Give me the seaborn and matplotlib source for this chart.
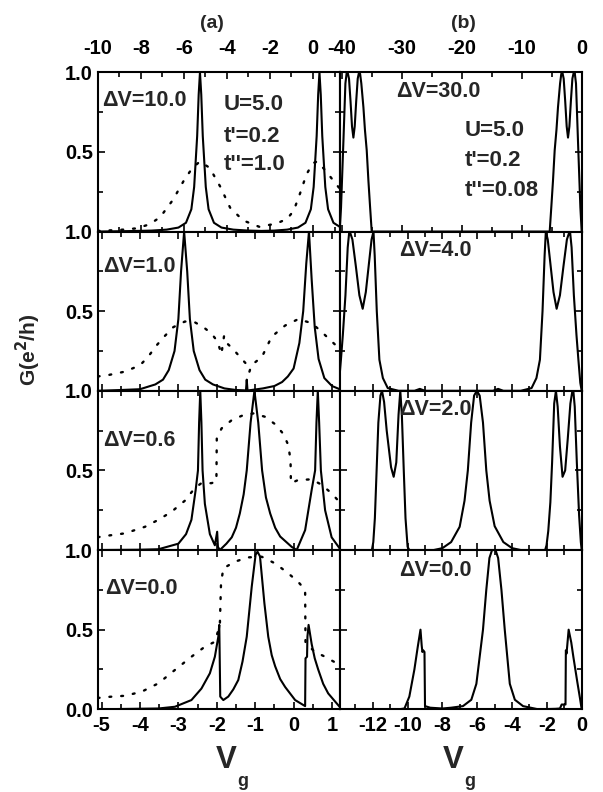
import numpy as np
import pandas as pd
import seaborn as sns
from matplotlib import pyplot as plt
from matplotlib.ticker import MultipleLocator, FixedLocator

# ---------------- data ----------------
# (a) column, dV = 10.0 (x in units of the top axis)
a1_solid_x = [-10.0, -8.5, -7.5, -6.8, -6.25, -5.9, -5.65, -5.52, -5.38, -5.31, -5.25, -5.19, -5.12,
              -4.98, -4.85, -4.6, -4.25, -3.7, -3.0, -2.4, -1.8, -1.2, -0.7, -0.35, -0.1, 0.03, 0.17,
              0.24, 0.3, 0.36, 0.43, 0.57, 0.7, 0.95, 1.24]
a1_solid_g = [0.0, 0.003, 0.006, 0.012, 0.025, 0.055, 0.14, 0.28, 0.6, 0.86, 1.0, 0.86, 0.6,
              0.28, 0.14, 0.055, 0.025, 0.012, 0.006, 0.004, 0.006, 0.012, 0.025, 0.055, 0.14, 0.28, 0.6,
              0.86, 1.0, 0.86, 0.6, 0.28, 0.14, 0.055, 0.03]
a1_dot_x = [-10.0, -9.0, -8.2, -7.6, -7.1, -6.5, -6.0, -5.6, -5.25, -4.8, -4.3, -3.85, -3.25, -2.5,
            -1.7, -1.2, -0.9, -0.6, -0.3, 0.0, 0.2, 0.6, 1.0, 1.24]
a1_dot_g = [0.004, 0.01, 0.02, 0.045, 0.09, 0.2, 0.32, 0.40, 0.44, 0.40, 0.28, 0.15, 0.07, 0.03,
            0.05, 0.08, 0.13, 0.24, 0.36, 0.43, 0.44, 0.38, 0.31, 0.27]

# (a) column, dV = 1.0
a2_solid_x = [-5.1, -4.5, -4.0, -3.6, -3.4, -3.25, -3.1, -3.0, -2.93, -2.85, -2.77, -2.7, -2.6,
              -2.45, -2.3, -2.1, -1.8, -1.5, -1.3, -1.24, -1.22, -1.2, -1.1, -0.8, -0.5, -0.3,
              -0.15, 0.0, 0.15, 0.25, 0.33, 0.4, 0.47, 0.55, 0.65, 0.8, 1.0, 1.2]
a2_solid_g = [0.0, 0.005, 0.01, 0.04, 0.07, 0.13, 0.25, 0.45, 0.75, 1.0, 0.75, 0.45, 0.25,
              0.13, 0.07, 0.04, 0.015, 0.005, 0.003, 0.002, 0.07, 0.002, 0.005, 0.015, 0.03, 0.055,
              0.09, 0.14, 0.3, 0.5, 0.8, 1.0, 0.7, 0.4, 0.2, 0.08, 0.03, 0.01]
a2_dot_x = [-5.1, -4.8, -4.4, -4.0, -3.8, -3.55, -3.35, -3.13, -2.83, -2.57, -2.35, -2.14, -1.98,
            -1.88, -1.81, -1.74, -1.57, -1.35, -1.2, -1.15, -1.1, -0.92, -0.83, -0.57, -0.22, 0.12,
            0.47, 0.73, 1.08, 1.2]
a2_dot_g = [0.09, 0.10, 0.12, 0.16, 0.21, 0.29, 0.345, 0.40, 0.435, 0.43, 0.40, 0.36, 0.31,
            0.23, 0.345, 0.30, 0.26, 0.20, 0.16, 0.12, 0.16, 0.195, 0.21, 0.34, 0.41, 0.45,
            0.425, 0.37, 0.29, 0.27]

# (a) column, dV = 0.6
a3_solid_x = [-5.1, -4.0, -3.52, -3.0, -2.8, -2.66, -2.55, -2.49, -2.46, -2.43, -2.40, -2.37, -2.31,
              -2.18, -2.05, -1.99, -1.97, -1.92, -1.75, -1.61, -1.5, -1.40, -1.3, -1.22, -1.12,
              -1.02, -0.92, -0.82, -0.72, -0.61, -0.48, -0.35, -0.05, 0.08, 0.30, 0.47, 0.56,
              0.595, 0.63, 0.665, 0.71, 0.82, 0.99, 1.2]
a3_solid_g = [0.0, 0.002, 0.005, 0.04, 0.1, 0.19, 0.377, 0.5, 0.8, 1.0, 0.8, 0.5, 0.29,
              0.10, 0.03, 0.115, 0.02, 0.0, 0.04, 0.08, 0.14, 0.23, 0.35, 0.5, 0.8,
              1.0, 0.8, 0.5, 0.33, 0.23, 0.14, 0.085, 0.02, 0.0, 0.125, 0.377, 0.5,
              0.8, 1.0, 0.8, 0.5, 0.25, 0.08, 0.01]
a3_dot_x = [-5.1, -5.0, -4.39, -3.87, -3.52, -3.18, -2.83, -2.57, -2.40, -2.14, -2.01, -2.0, -1.875,
            -1.61, -1.31, -1.05, -0.745, -0.48, -0.27, -0.14, -0.08, -0.07, 0.12, 0.47, 0.73, 0.99, 1.2]
a3_dot_g = [0.08, 0.085, 0.105, 0.146, 0.19, 0.24, 0.31, 0.39, 0.42, 0.42, 0.43, 0.70, 0.764,
            0.816, 0.847, 0.858, 0.837, 0.79, 0.73, 0.66, 0.565, 0.42, 0.44, 0.444, 0.41, 0.356, 0.30]

# (a) column, dV = 0.0
a4_solid_x = [-5.1, -3.52, -3.09, -2.66, -2.40, -2.18, -2.05, -1.96, -1.935, -1.91, -1.875, -1.83,
              -1.70, -1.57, -1.44, -1.33, -1.22, -1.09, -0.99, -0.94, -0.875, -0.76, -0.66, -0.57,
              -0.48, -0.35, -0.22, 0.04, 0.30, 0.31, 0.35, 0.36, 0.39, 0.47, 0.55, 0.64, 0.77,
              0.90, 1.2]
a4_solid_g = [0.0, 0.005, 0.016, 0.058, 0.13, 0.226, 0.33, 0.456, 0.53, 0.08, 0.07, 0.058,
              0.08, 0.125, 0.184, 0.30, 0.456, 0.77, 0.97, 0.99, 0.96, 0.665, 0.456, 0.34,
              0.27, 0.19, 0.14, 0.058, 0.02, 0.32, 0.33, 0.456, 0.53, 0.41, 0.32, 0.25, 0.16,
              0.10, 0.015]
a4_dot_x = [-5.1, -5.0, -4.39, -3.96, -3.52, -3.09, -2.66, -2.31, -2.05, -1.92, -1.89, -1.83, -1.53,
            -1.18, -0.83, -0.48, -0.14, 0.12, 0.30, 0.31, 0.56, 0.82, 1.2]
a4_dot_g = [0.07, 0.075, 0.085, 0.11, 0.163, 0.247, 0.33, 0.393, 0.424, 0.53, 0.79, 0.885, 0.927,
            0.954, 0.958, 0.916, 0.854, 0.80, 0.75, 0.414, 0.36, 0.33, 0.278]

# (b) column, dV = 30.0
b1_x = [-40.3, -40.08, -39.68, -39.35, -39.13, -38.95, -38.75, -38.5, -38.25, -38.02, -37.8, -37.55,
        -37.3, -37.08, -36.9, -36.7, -36.35, -36.1, -35.8, -35.52, -35.25, -34.97, -32.3,
        -8.0, -5.33, -5.05, -4.78, -4.5, -4.2, -3.95, -3.6, -3.4, -3.22, -3.0, -2.75, -2.5, -2.28,
        -2.05, -1.8, -1.55, -1.35, -1.17, -0.95, -0.62, -0.22, 0.0]
b1_g = [0.0, 0.15, 0.57, 0.93, 1.0, 0.995, 0.96, 0.82, 0.66, 0.59, 0.66, 0.82,
        0.96, 1.0, 0.99, 0.93, 0.78, 0.64, 0.51, 0.32, 0.16, 0.0, 0.0,
        0.0, 0.0, 0.16, 0.32, 0.51, 0.64, 0.78, 0.93, 0.99, 1.0, 0.96, 0.82, 0.66, 0.59,
        0.66, 0.82, 0.96, 0.995, 1.0, 0.93, 0.57, 0.15, 0.0]

# (b) column, dV = 4.0
b2_x = [-14.02, -13.94, -13.83, -13.72, -13.57, -13.44, -13.35, -13.29, -13.17, -12.97, -12.77,
        -12.58, -12.40, -12.22, -12.07, -11.96, -11.89, -11.77, -11.62, -11.42, -11.14, -10.52,
        -9.6, -9.3, -9.0, -5.1, -4.8, -4.5,
        -3.5, -2.88, -2.6, -2.4, -2.25, -2.13, -2.06, -1.95, -1.8, -1.62, -1.44, -1.25, -1.05,
        -0.85, -0.73, -0.67, -0.58, -0.45, -0.3, -0.19, -0.08, 0.0]
b2_g = [0.0, 0.05, 0.195, 0.35, 0.6, 0.9, 1.0, 0.99, 0.95, 0.78, 0.60,
        0.515, 0.62, 0.80, 0.95, 1.0, 0.85, 0.5, 0.195, 0.08, 0.017, 0.0,
        0.0, 0.012, 0.0, 0.0, 0.012, 0.0,
        0.0, 0.017, 0.08, 0.195, 0.5, 0.85, 1.0, 0.95, 0.80, 0.62, 0.515, 0.60, 0.78,
        0.95, 0.99, 1.0, 0.9, 0.6, 0.35, 0.195, 0.05, 0.0]

# (b) column, dV = 2.0
b3_x = [-14.0, -12.05, -11.97, -11.88, -11.78, -11.68, -11.56, -11.47, -11.35, -11.2, -10.95, -10.80,
        -10.65, -10.52, -10.42, -10.33, -10.22, -10.12, -10.0, -9.9,
        -8.5, -8.0, -7.5, -7.01, -6.73, -6.54, -6.35, -6.18, -6.02, -5.86, -5.67, -5.48, -5.29,
        -5.0, -4.5, -4.0, -3.5,
        -2.1, -2.02, -1.92, -1.80, -1.70, -1.58, -1.48, -1.38, -1.25, -1.10, -0.95, -0.80, -0.65,
        -0.55, -0.48, -0.40, -0.28, -0.15, -0.05, 0.0]
b3_g = [0.0, 0.0, 0.05, 0.2, 0.5, 0.8, 0.97, 1.0, 0.93, 0.75, 0.52, 0.46,
        0.55, 0.85, 1.0, 0.85, 0.5, 0.2, 0.02, 0.0,
        0.0, 0.012, 0.05, 0.146, 0.31, 0.50, 0.80, 0.97, 1.0, 0.97, 0.80, 0.50, 0.31,
        0.15, 0.05, 0.012, 0.0,
        0.0, 0.03, 0.12, 0.3, 0.55, 0.92, 1.0, 0.9, 0.65, 0.46, 0.5, 0.7, 0.92,
        0.99, 1.0, 0.9, 0.55, 0.22, 0.05, 0.0]

# (b) column, dV = 0.0
b4_x = [-14.0, -10.5, -10.18, -9.90, -9.61, -9.42, -9.26, -9.19, -9.15, -9.10, -9.03, -9.0, -8.7,
        -8.0, -7.5, -6.82, -6.34, -6.05, -5.67, -5.48, -5.3, -5.15, -5.05, -4.95, -4.8, -4.61,
        -4.42, -4.13, -3.84, -3.37, -2.5, -1.5, -1.25, -1.15, -1.0, -0.93, -0.91, -0.87, -0.83,
        -0.75, -0.60, -0.48, -0.25, -0.1, 0.0]
b4_g = [0.0, 0.0, 0.005, 0.08, 0.25, 0.39, 0.50, 0.40, 0.36, 0.37, 0.36, 0.02, 0.01,
        0.005, 0.01, 0.02, 0.06, 0.16, 0.5, 0.75, 0.95, 1.0, 1.0, 1.0, 0.95, 0.75,
        0.5, 0.16, 0.06, 0.02, 0.0, 0.003, 0.005, 0.03, 0.03, 0.03, 0.37, 0.35, 0.40,
        0.50, 0.42, 0.33, 0.17, 0.07, 0.0]

dv_labels_a = ["10.0", "1.0", "0.6", "0.0"]
dv_labels_b = ["30.0", "4.0", "2.0", "0.0"]
params_a = ["U=5.0", "t'=0.2", "t''=1.0"]
params_b = ["U=5.0", "t'=0.2", "t''=0.08"]

# ---------------- figure ----------------
sns.set_theme(style="ticks")
plt.rcParams['font.family'] = ['Liberation Sans', 'DejaVu Sans']
plt.rcParams['font.weight'] = 'bold'
plt.rcParams['axes.unicode_minus'] = False
plt.rcParams['axes.linewidth'] = 1.5

W, H = 603, 792
fig, axes = plt.subplots(4, 2, figsize=(W / 100, H / 100), dpi=100,
                         gridspec_kw=dict(left=97.7 / W, right=581.7 / W, top=1 - 72.3 / H,
                                          bottom=1 - 709.3 / H, hspace=0, wspace=0))


def draw(ax, xs, gs, dotted=False):
    df = pd.DataFrame({"Vg": xs, "G": gs})
    if dotted:
        sns.lineplot(data=df, x="Vg", y="G", ax=ax, color="black", lw=1.7, linestyle=(0, (0.8, 4.2)),
                     dash_capstyle="round", estimator=None, sort=False)
    else:
        sns.lineplot(data=df, x="Vg", y="G", ax=ax, color="black", lw=1.5, estimator=None, sort=False)
    ax.set_xlabel("")
    ax.set_ylabel("")


draw(axes[0, 0], a1_dot_x, a1_dot_g, dotted=True)
draw(axes[0, 0], a1_solid_x, a1_solid_g)
draw(axes[1, 0], a2_dot_x, a2_dot_g, dotted=True)
draw(axes[1, 0], a2_solid_x, a2_solid_g)
draw(axes[2, 0], a3_dot_x, a3_dot_g, dotted=True)
draw(axes[2, 0], a3_solid_x, a3_solid_g)
draw(axes[3, 0], a4_dot_x, a4_dot_g, dotted=True)
draw(axes[3, 0], a4_solid_x, a4_solid_g)
draw(axes[0, 1], b1_x, b1_g)
draw(axes[1, 1], b2_x, b2_g)
draw(axes[2, 1], b3_x, b3_g)
draw(axes[3, 1], b4_x, b4_g)

for r in range(4):
    for c in range(2):
        ax = axes[r, c]
        ax.set_ylim(0, 1.0)
        ax.yaxis.set_major_locator(FixedLocator([0, 0.5, 1.0]))
        ax.yaxis.set_minor_locator(FixedLocator([0.25, 0.75]))
        ax.tick_params(which='both', direction='in', top=True, bottom=True, left=True, right=True,
                       width=1.2, labelsize=14.5, colors='black')
        ax.tick_params(which='major', length=5)
        ax.tick_params(which='minor', length=3.5)
        ax.tick_params(axis='y', pad=3.5)
        ax.tick_params(axis='x', pad=5)
        if c == 0:
            ax.set_yticklabels(['0.0' if r == 3 else '', '0.5', '1.0'])
        else:
            ax.tick_params(labelleft=False)
        if c == 0 and r == 0:
            ax.set_xlim(-10.0, 1.24)
            ax.xaxis.set_major_locator(MultipleLocator(2))
            ax.xaxis.set_minor_locator(MultipleLocator(1))
        elif c == 0:
            ax.set_xlim(-5.1, 1.2)
            ax.xaxis.set_major_locator(MultipleLocator(1))
            ax.xaxis.set_minor_locator(MultipleLocator(0.5))
        elif r == 0:
            ax.set_xlim(-40.3, 0)
            ax.xaxis.set_major_locator(MultipleLocator(10))
            ax.xaxis.set_minor_locator(MultipleLocator(5))
        else:
            ax.set_xlim(-13.9, 0)
            ax.xaxis.set_major_locator(MultipleLocator(2))
            ax.xaxis.set_minor_locator(MultipleLocator(1))
        if r == 0:
            ax.tick_params(axis='x', labeltop=True, labelbottom=False, pad=10)
        elif r < 3:
            ax.tick_params(axis='x', labelbottom=False)
        for s in ax.spines.values():
            s.set_linewidth(1.5)
            s.set_color('black')


def ftext(x, y, s, **kw):
    fig.text(x / W, 1 - y / H, s, **kw)


dv_pos_a = [(101.7, 101), (103.3, 266.7), (103.3, 440), (105, 588.3)]
dv_pos_b = [(396, 91.7), (399.3, 250.7), (399.3, 410), (399.3, 570)]
for (x, y), lab in zip(dv_pos_a, dv_labels_a):
    ftext(x, y, "\u0394V=" + lab, ha='left', va='center', fontsize=15.5)
for (x, y), lab in zip(dv_pos_b, dv_labels_b):
    ftext(x, y, "\u0394V=" + lab, ha='left', va='center', fontsize=15.5)

for y, s in zip([105, 136.7, 165], params_a):
    ftext(223.3, y, s, ha='left', va='center', fontsize=16)
for y, s in zip([130, 160, 190], params_b):
    ftext(465, y, s, ha='left', va='center', fontsize=16)

ftext(211.5, 24, "(a)", ha='center', va='center', fontsize=14)
ftext(463.5, 24, "(b)", ha='center', va='center', fontsize=14)

# axis titles: V with a low subscript g
ftext(226, 760, "V", ha='center', va='center', fontsize=22.5)
ftext(237, 786, "g", ha='left', va='baseline', fontsize=13)
ftext(453, 760, "V", ha='center', va='center', fontsize=22.5)
ftext(464, 786, "g", ha='left', va='baseline', fontsize=13)

ftext(28, 350, "G(e$^{\\mathbf{2}}$/h)", ha='center', va='center', rotation=90, fontsize=15)

fig.savefig("out.png", dpi=100)
